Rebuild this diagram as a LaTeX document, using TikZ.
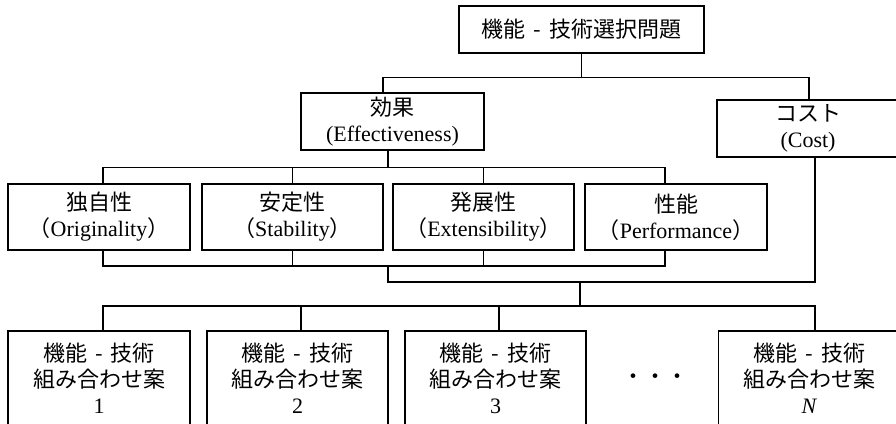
\documentclass[tikz,border=0pt]{standalone}
\usepackage{fontspec}
\setmainfont{Liberation Serif}
\newfontfamily\cjk{Noto Sans CJK JP}
\newcommand{\hy}{\hspace{8pt}-\hspace{8pt}}
\newcommand{\kgj}{{\cjk 機能\hy 技術}}
\begin{document}
\begin{tikzpicture}[x=1pt,y=-1pt,
  box/.style={draw, line width=1.4pt, inner sep=0pt, align=center,
    font=\fontsize{22}{26}\selectfont},
  conn/.style={line width=1.4pt}]
\useasboundingbox (0,0) rectangle (896,423);
\clip (0,0) rectangle (896,423);
\fill[white] (0,0) rectangle (896,423);
% nodes
\node[box, minimum width=245pt, minimum height=47pt] (top) at (581.5,29.5) {{\cjk 機能\hy 技術選択問題}};
\node[box, minimum width=183pt, minimum height=57pt] (eff) at (392.5,121.5) {{\cjk 効果}\\(Effectiveness)};
\node[box, minimum width=182pt, minimum height=57pt] (cost) at (808,128.5) {{\cjk コスト}\\(Cost)};
\node[box, minimum width=182pt, minimum height=66pt] (o) at (99,217) {{\cjk 独自性}\\{\cjk （}Originality{\cjk ）}};
\node[box, minimum width=181pt, minimum height=66pt] (s) at (292.5,217) {{\cjk 安定性}\\{\cjk （}Stability{\cjk ）}};
\node[box, minimum width=181pt, minimum height=66pt] (e) at (483.5,217) {{\cjk 発展性}\\{\cjk （}Extensibility{\cjk ）}};
\node[box, minimum width=182pt, minimum height=66pt] (p) at (676,217) {{\cjk 性能}\\{\cjk （}Performance{\cjk ）}};
\node[box, minimum width=182pt, minimum height=94pt] (b1) at (99,378) {\kgj\\{\cjk 組み合わせ案}\\1};
\node[box, minimum width=181pt, minimum height=94pt] (b2) at (297.5,378) {\kgj\\{\cjk 組み合わせ案}\\2};
\node[box, minimum width=181pt, minimum height=94pt] (b3) at (495.5,378) {\kgj\\{\cjk 組み合わせ案}\\3};
\node[box, minimum width=182pt, minimum height=94pt] (bN) at (809.5,378) {\kgj\\{\cjk 組み合わせ案}\\\textit{N}};
\node[font=\fontsize{22}{26}\selectfont, inner sep=0pt] (dots) at (655,379) {{\cjk ・・・}};
% connectors
\draw[conn] (top.south) -- ++(0,24) coordinate (j1);
\draw[conn] ([xshift=-9.5pt]eff.north) |- (j1) -| ([xshift=1pt]cost.north);
\draw[conn] ([xshift=-4.5pt]eff.south) -- ++(0,17) coordinate (j2);
\draw[conn] ([xshift=4pt]o.north) |- (j2) -| ([xshift=-11pt]p.north);
\draw[conn] (s.north) -- (s.north |- j2);
\draw[conn] (e.north) -- (e.north |- j2);
\coordinate (j3) at (388,266);
\draw[conn] ([xshift=4pt]o.south) |- (j3) -| ([xshift=-11pt]p.south);
\draw[conn] (s.south) -- (s.south |- j3);
\draw[conn] (e.south) -- (e.south |- j3);
\coordinate (j4) at (580,282);
\draw[conn] (j3) |- (j4) -| ([xshift=7pt]cost.south);
\coordinate (j5) at (580,306);
\draw[conn] (j4) -- (j5);
\draw[conn] ([xshift=4pt]b1.north) |- (j5) -| ([xshift=5.5pt]bN.north);
\draw[conn] ([xshift=3.5pt]b2.north) -- ++(0,-25);
\draw[conn] ([xshift=3.5pt]b3.north) -- ++(0,-25);
\end{tikzpicture}
\end{document}
